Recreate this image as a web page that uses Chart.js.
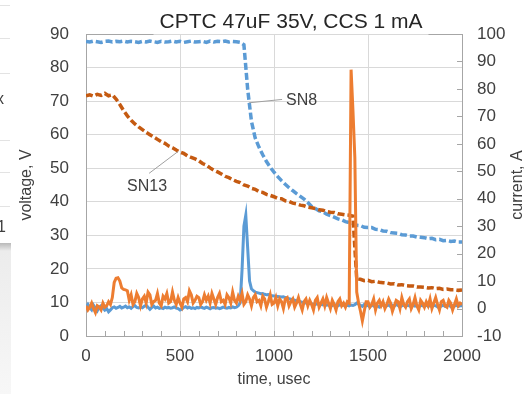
<!DOCTYPE html>
<html>
<head>
<meta charset="utf-8">
<script src="https://cdn.jsdelivr.net/npm/chart.js@4.4.1/dist/chart.umd.min.js"></script>
<style>
  html, body { margin: 0; padding: 0; background: #fff; }
  #wrap { position: relative; width: 524px; height: 394px; overflow: hidden; }
  canvas { display: block; }
  .edge { position: absolute; left: 0; width: 10px; height: 1px; background: #e3e3e3; }
  .frag { position: absolute; font: 16px "Liberation Sans", Arial, sans-serif; color: #404040; }
  #shade { position: absolute; left: 0; top: 243px; width: 11px; height: 151px;
           background: linear-gradient(#b9b9b9 0, #ececec 8px, #f7f7f7 100%); }
</style>
</head>
<body>
<div id="wrap">
  <canvas id="chart" width="524" height="394"></canvas>
  <div class="edge" style="top:5px"></div>
  <div class="edge" style="top:38px"></div>
  <div class="edge" style="top:73px"></div>
  <div class="edge" style="top:140px"></div>
  <div class="edge" style="top:172px"></div>
  <div class="edge" style="top:206px"></div>
  <div class="frag" style="left:-4px;top:90px">x</div>
  <div class="frag" style="left:-3px;top:218px">1</div>
  <div id="shade"></div>
</div>
<script>
const chartTitle = "CPTC 47uF 35V, CCS 1 mA";
const xTitle = "time, usec";
const yTitle = "voltage, V";
const y2Title = "current, A";

// sampling steps of the recorded traces, usec
const voltStep = 20;
const curStep = 10;

// SN8 voltage, V (every 20 usec)
const sn8Volt = [
  87.8, 87.6, 87.9, 87.7, 87.5, 87.8, 87.9, 87.6, 87.8, 87.7,
  87.9, 87.6, 87.8, 87.7, 87.5, 87.8, 87.6, 87.9, 87.7, 87.5,
  87.8, 87.6, 87.7, 87.9, 87.6, 87.8, 87.5, 87.7, 87.9, 87.6,
  87.7, 87.8, 87.5, 87.9, 87.6, 87.8, 87.7, 87.9, 87.6, 87.8,
  87.7, 87.5, 86.8, 73.5, 64.0, 59.0, 56.3, 54.0, 52.0, 50.3,
  48.8, 47.5, 46.3, 45.2, 44.2, 43.3, 42.4, 41.6, 40.8, 39.8,
  38.6, 38.0, 37.3, 37.0, 36.3, 35.9, 35.4, 34.9, 34.6, 34.1,
  33.8, 33.5, 33.0, 32.9, 32.4, 32.3, 32.3, 31.8, 31.7, 31.3,
  31.2, 30.8, 30.7, 30.6, 30.2, 30.1, 29.8, 29.8, 29.5, 29.4,
  29.3, 29.0, 29.1, 28.7, 28.8, 28.4, 28.5, 28.2, 28.3, 28.0,
  28.0
];

// SN13 voltage, V (every 20 usec)
const sn13Volt = [
  71.6, 71.9, 71.5, 72.0, 71.7, 72.3, 71.6, 71.9, 70.6, 69.0,
  67.2, 65.6, 64.3, 63.2, 62.3, 61.5, 60.7, 60.0, 59.3, 58.6,
  57.9, 57.4, 56.6, 56.1, 55.4, 54.8, 54.4, 53.7, 53.2, 52.8,
  52.2, 51.4, 50.9, 50.1, 49.4, 48.9, 48.3, 47.6, 47.2, 46.6,
  46.1, 45.7, 45.0, 44.7, 44.0, 43.7, 43.0, 42.8, 42.2, 41.9,
  41.5, 41.0, 40.9, 40.3, 40.1, 39.6, 39.4, 39.0, 38.8, 38.4,
  38.2, 38.0, 37.6, 37.5, 37.1, 36.9, 36.8, 36.4, 36.3, 36.1,
  36.0, 35.7, 17.0, 16.9, 16.5, 16.6, 16.2, 16.3, 16.0, 15.9,
  15.8, 15.5, 15.6, 15.2, 15.3, 15.0, 14.9, 14.9, 14.6, 14.6,
  14.5, 14.3, 14.4, 14.1, 14.2, 13.9, 14.0, 13.8, 13.8, 13.6,
  13.7
];

// SN8 current, A (every 10 usec)
const sn8Cur = [
  0.5, 1.5, 0.3, -0.5, 1.2, 0.2, -0.8, 0.5, 1.0, 0.2,
  -0.6, 0.0, -1.2, -0.5, 0.3, 0.6, 0.1, 0.4, 0.8, 0.2,
  0.5, 0.9, 0.3, 0.6, 0.1, 0.7, 1.1, 0.4, 0.2, 0.6,
  0.3, 0.8, 1.2, 0.5, -0.3, 0.4, 0.9, 0.2, 0.5, 0.1,
  0.3, 0.0, 0.5, 0.2, 0.4, 0.1, 0.3, 0.6, 0.2, 0.0,
  -0.5, -0.2, 0.4, 0.7, 0.2, 0.5, 0.1, 0.3, 0.0, 0.4,
  0.2, 0.6, 0.3, 0.1, 0.5, 0.2, -0.1, 0.3, 0.4, 0.1,
  0.3, 0.0, 0.2, 0.5, 0.3, 0.1, 0.4, 0.2, 0.6, 0.3,
  0.5, 1.0, 2.0, 14.0, 30.0, 34.0, 22.0, 10.0, 7.2, 6.5,
  6.0, 5.8, 5.6, 5.4, 5.5, 5.2, 5.0, 5.1, 4.8, 4.7,
  4.6, 4.5, 4.4, 4.3, 4.2, 4.3, 4.0, 3.9, 3.6, 3.4,
  3.2, 3.0, 2.8, 2.6, 2.5, 2.3, 2.2, 2.0, 1.9, 1.8,
  1.7, 1.6, 1.5, 1.8, 1.4, 1.5, 1.3, 1.6, 1.2, 1.4,
  1.3, 1.1, 1.5, 1.2, 1.0, 1.4, 1.1, 1.3, 0.9, 1.2,
  1.0, 1.3, 1.1, 1.4, 2.0, 1.6, 1.2, 0.8, 1.5, 1.0,
  1.2, 0.6, 1.4, 0.9, 1.3, 1.0, 0.5, 1.1, 1.4, 0.8,
  1.0, 1.3, 0.7, 1.2, 0.9, 1.5, 1.1, 0.6, 1.0, 1.3,
  0.8, 1.2, 1.0, 0.7, 1.3, 0.9, 1.1, 0.6, 1.2, 1.0,
  0.9, 1.3, 0.8, 1.1, 0.7, 1.2, 1.0, 0.6, 1.1, 0.9,
  1.2, 0.8, 1.0, 1.3, 0.7, 1.1, 0.9, 1.2, 0.8, 1.0,
  1.0
];

// SN13 current, A (every 10 usec)
const sn13Cur = [
  1.0, -0.5, 0.5, 2.0, 0.0, -1.5, 1.0, 0.5, -0.5, 2.0,
  0.5, 1.0, 2.5, 1.5, 4.0, 9.5, 11.0, 11.2, 10.0, 7.5,
  7.0, 6.8, 6.5, 3.0, 5.0, 1.5, 2.5, 5.5, 4.0, 1.0,
  3.5, 4.5, 2.0, 6.0, 5.0, 1.5, 2.5, 3.0, 5.5, 2.0,
  1.0, 4.5, 3.5, 5.5, 2.0, 2.5, 6.0, 3.0, 1.5, 4.0,
  2.0, 0.5, 3.5, 4.0, 2.5, 6.5, 5.0, 2.0, 3.0, 4.5,
  4.0, 1.5, 2.5, 5.0, 3.0, 4.5, 2.0, 5.5, 3.5, 1.5,
  4.0, 5.5, 2.5, 3.0, 1.5, 5.0, 4.0, 2.0, 6.0, 3.0,
  2.0, 4.5, 3.0, 5.5, 1.5, 2.5, 5.0, 3.5, 1.0, 4.0,
  5.0, 2.5, 3.0, 1.0, 4.5, 3.5, 0.5, 2.5, 5.0, 1.5,
  2.0, 4.0, 1.0, 3.5, 2.5, 0.0, 3.5, 4.0, 1.0, 2.5,
  3.5, 0.5, 2.0, 4.0, 1.5, -0.5, 2.5, 3.5, 1.0, 3.0,
  1.5, -0.5, 3.0, 4.0, 0.5, 2.0, 3.5, 1.0, 4.0, 2.0,
  0.0, 3.0, 1.5, -0.5, 2.5, 3.5, 1.0, 2.0, 0.5, 2.5,
  2.0, 87.0, 72.0, 55.0, 6.0, 2.0, -1.0, -4.5, -1.0, 2.5,
  2.5, 0.5, 1.5, 3.5, -0.5, 2.0, 3.0, 1.0, 2.5, 0.0,
  1.5, 3.5, 2.0, -1.0, 1.0, 3.0, 2.5, 0.0, 4.0, 1.5,
  0.5, 2.5, 3.5, 0.0, 1.5, 4.0, 1.0, -0.5, 3.0, 2.0,
  0.5, 2.5, 1.0, 3.5, 0.0, 2.0, 4.0, 1.5, -0.5, 2.5,
  3.0, 1.0, 0.5, 3.0, 2.0, -0.5, 1.5, 3.5, 1.0, 2.0,
  1.5
];

// series call-outs: label anchored at a point on its curve (time, V)
const callouts = [
  { text: "SN8", at: [868, 69.5], label: [1147, 70.2] },
  { text: "SN13", at: [490, 55.0], label: [325, 44.6] }
];

const FONT = '"Liberation Sans", Arial, sans-serif';
const TEXT = "#404040";
const AXIS = "#a6a6a6";
const GRID = "#d9d9d9";

function toPoints(values, step) {
  return values.map((v, i) => ({ x: i * step, y: v }));
}

const frame = {
  id: "frame",
  afterDraw(chart) {
    const { ctx, chartArea: a, scales } = chart;
    const x = scales.x, y = scales.y, y2 = scales.y2;
    ctx.save();

    // title sits over the top border
    ctx.font = "21px " + FONT;
    ctx.fillStyle = "#262626";
    ctx.textAlign = "center";
    ctx.textBaseline = "middle";
    const tx = 291, ty = 22;
    ctx.fillText(chartTitle, tx, ty);
    const tw = ctx.measureText(chartTitle).width;
    ctx.strokeStyle = AXIS;
    ctx.lineWidth = 1;
    ctx.beginPath();
    ctx.moveTo(a.left, a.top + 0.5);
    ctx.lineTo(tx - tw / 2 - 6, a.top + 0.5);
    ctx.moveTo(tx + tw / 2 + 6, a.top + 0.5);
    ctx.lineTo(a.right, a.top + 0.5);
    // minor ticks on time axis, inside
    for (let t = 100; t < 2000; t += 100) {
      const px = Math.round(x.getPixelForValue(t)) + 0.5;
      ctx.moveTo(px, a.bottom);
      ctx.lineTo(px, a.bottom - 5);
    }
    // current axis ticks, inside
    for (let v = -10; v <= 100; v += 10) {
      const py = Math.round(y2.getPixelForValue(v)) + 0.5;
      ctx.moveTo(a.right, py);
      ctx.lineTo(a.right - 5, py);
    }
    ctx.stroke();

    // right axis title, reading bottom to top
    ctx.font = "16px " + FONT;
    ctx.fillStyle = TEXT;
    ctx.save();
    ctx.translate(518, (a.top + a.bottom) / 2);
    ctx.rotate(-Math.PI / 2);
    ctx.fillText(y2Title, 0, 0);
    ctx.restore();

    // call-outs
    for (const c of callouts) {
      const ax = x.getPixelForValue(c.at[0]), ay = y.getPixelForValue(c.at[1]);
      const lx = x.getPixelForValue(c.label[0]), ly = y.getPixelForValue(c.label[1]);
      const w = ctx.measureText(c.text).width;
      let ex, ey;
      if (lx > ax) { ex = lx - w / 2 - 4; ey = ly - 1; }
      else { ex = lx + 2; ey = ly - 13; }
      ctx.strokeStyle = "#a0a0a0";
      ctx.beginPath();
      ctx.moveTo(ax, ay);
      ctx.lineTo(ex, ey);
      ctx.stroke();
      ctx.fillText(c.text, lx, ly);
    }
    ctx.restore();
  }
};

new Chart(document.getElementById("chart"), {
  type: "line",
  data: {
    datasets: [
      {
        label: "SN13 current",
        data: toPoints(sn13Cur, curStep),
        yAxisID: "y2",
        borderColor: "#ED7D31",
        borderWidth: 3,
        order: 0
      },
      {
        label: "SN8 current",
        data: toPoints(sn8Cur, curStep),
        yAxisID: "y2",
        borderColor: "#5B9BD5",
        borderWidth: 3,
        order: 1
      },
      {
        label: "SN13",
        data: toPoints(sn13Volt, voltStep),
        yAxisID: "y",
        borderColor: "#C55A11",
        borderWidth: 3.5,
        borderDash: [7, 3],
        order: 2
      },
      {
        label: "SN8",
        data: toPoints(sn8Volt, voltStep),
        yAxisID: "y",
        borderColor: "#5B9BD5",
        borderWidth: 3.5,
        borderDash: [7, 3],
        order: 3
      }
    ]
  },
  options: {
    responsive: false,
    animation: false,
    layout: { padding: { top: 34, left: 0, right: 0, bottom: 0 } },
    elements: { point: { radius: 0 }, line: { tension: 0, fill: false } },
    plugins: { legend: { display: false }, tooltip: { enabled: false } },
    scales: {
      x: {
        type: "linear",
        min: 0,
        max: 2000,
        ticks: {
          stepSize: 500, padding: 10, maxRotation: 0, color: TEXT,
          font: { family: FONT, size: 17 },
          callback: (v) => String(v)
        },
        grid: { color: GRID, drawTicks: false },
        border: { color: AXIS },
        title: { display: true, text: xTitle, color: TEXT, font: { family: FONT, size: 16 }, padding: { top: 0, bottom: 5 } },
        afterFit: (s) => { s.height = 58; }
      },
      y: {
        position: "left",
        min: 0,
        max: 90,
        ticks: { stepSize: 10, padding: 17, color: TEXT, font: { family: FONT, size: 17 } },
        grid: { color: GRID, drawTicks: false },
        border: { color: AXIS },
        title: { display: true, text: yTitle, color: TEXT, font: { family: FONT, size: 16 }, padding: { top: 17, bottom: 0 } },
        afterFit: (s) => { s.width = 86; }
      },
      y2: {
        position: "right",
        min: -10,
        max: 100,
        ticks: { stepSize: 10, padding: 15, color: TEXT, font: { family: FONT, size: 17 } },
        grid: { drawOnChartArea: false, drawTicks: false },
        border: { color: AXIS },
        afterFit: (s) => { s.width = 62; }
      }
    }
  },
  plugins: [frame]
});
</script>
</body>
</html>
